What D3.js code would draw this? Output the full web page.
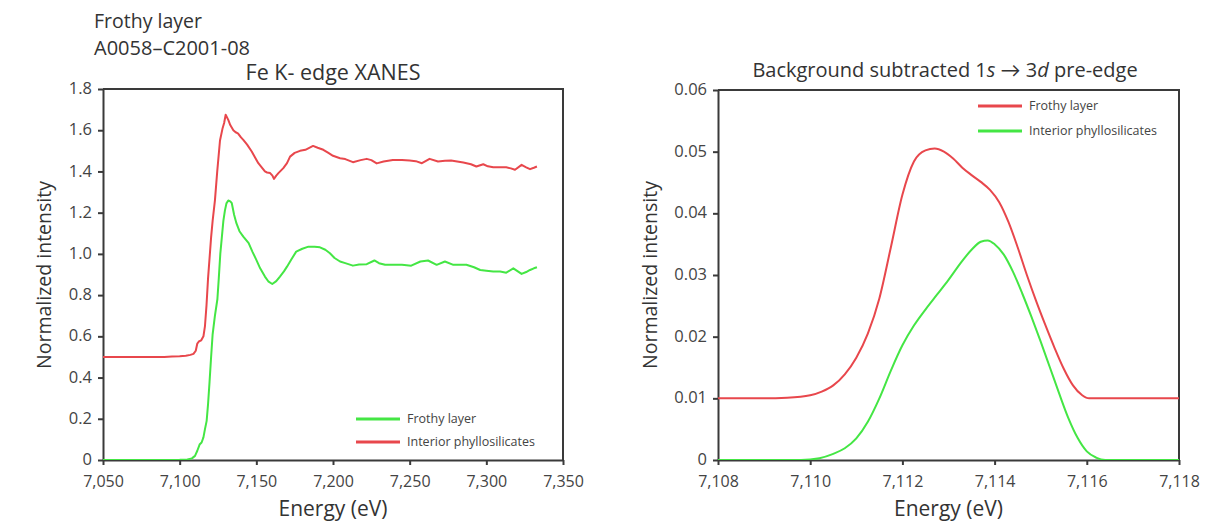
<!DOCTYPE html>
<html><head><meta charset="utf-8">
<script src="https://cdn.jsdelivr.net/npm/d3@7"></script>
<style>
body{margin:0;background:#fff;}
svg{display:block;font-family:"Open Sans",Lato,sans-serif;}
</style></head>
<body><svg id="c" width="1217" height="522"></svg>
<script>
// ---- Left panel: Fe K-edge XANES ----
const xanesEnergy = [7050,7060,7070,7080,7090,7095,7100,7104,7107,7109,7110.5,7111.5,7112.5,7114,7115.5,7116.5,7117.5,7118.5,7119.5,7120.5,7121.5,7123,7124.5,7126.3,7128,7129,7130,7131.7,7133,7135,7136.5,7138,7140,7141.5,7144,7147,7149,7151.3,7153.5,7155.6,7157,7159,7160.5,7161.5,7163,7164.4,7167.6,7170,7172,7175,7178.5,7182,7187,7190,7193.7,7197,7200,7204.6,7208,7213,7218,7222,7225,7228.5,7233,7239,7245,7250,7254,7258,7263,7268.5,7273,7277,7281,7285,7290,7293.5,7298,7301,7304.5,7309,7313,7316,7318.7,7323,7326,7328.5,7331,7333];
const xanesInterior = [0.50,0.50,0.50,0.50,0.50,0.502,0.503,0.506,0.51,0.515,0.53,0.565,0.575,0.58,0.60,0.65,0.75,0.88,0.98,1.08,1.16,1.26,1.40,1.55,1.61,1.635,1.675,1.65,1.625,1.60,1.59,1.585,1.565,1.553,1.53,1.497,1.47,1.44,1.42,1.40,1.395,1.392,1.38,1.364,1.38,1.392,1.416,1.44,1.472,1.49,1.50,1.505,1.524,1.515,1.505,1.49,1.476,1.464,1.46,1.445,1.455,1.461,1.455,1.439,1.448,1.456,1.455,1.453,1.45,1.44,1.461,1.448,1.452,1.453,1.448,1.443,1.435,1.424,1.435,1.425,1.42,1.42,1.42,1.415,1.408,1.432,1.42,1.411,1.418,1.424];
const xanesFrothyEnergy = [7050,7080,7100,7105,7108,7110,7111.5,7113,7114.3,7115.5,7116.5,7117.6,7118.5,7119.5,7120.5,7121.5,7123,7124.6,7125.5,7126.5,7127.5,7128.5,7129.5,7130.5,7131.7,7133,7134,7135.5,7137,7139,7141.5,7143,7145,7147.5,7150,7152.5,7155.6,7158,7160.4,7163,7165.4,7168,7170,7173,7176,7180,7184,7188,7191.5,7195,7198,7201,7204.6,7208,7213,7217,7222,7227,7230,7234,7240,7245,7251,7257,7262,7267.6,7273,7278.5,7283,7287,7292,7296,7300,7304.5,7309,7313,7317.6,7323,7326,7328.5,7331,7333];
const xanesFrothy = [0,0,0.001,0.003,0.008,0.02,0.045,0.075,0.085,0.11,0.15,0.19,0.27,0.38,0.50,0.61,0.70,0.78,0.88,1.0,1.08,1.16,1.21,1.245,1.259,1.255,1.246,1.19,1.149,1.11,1.084,1.07,1.052,1.01,0.971,0.93,0.89,0.865,0.854,0.868,0.89,0.915,0.938,0.975,1.011,1.025,1.035,1.035,1.032,1.02,1.003,0.98,0.963,0.955,0.943,0.948,0.95,0.968,0.955,0.947,0.947,0.947,0.943,0.963,0.968,0.947,0.963,0.947,0.947,0.947,0.935,0.922,0.918,0.914,0.915,0.909,0.93,0.903,0.912,0.922,0.93,0.935];
const leftXTicks = [7050,7100,7150,7200,7250,7300,7350];
const leftYTicks = [0,0.2,0.4,0.6,0.8,1.0,1.2,1.4,1.6,1.8];

// ---- Right panel: pre-edge ----
const preFrothyEnergy = [7108,7108.5,7109,7109.5,7110,7110.25,7110.5,7110.75,7111,7111.25,7111.5,7111.75,7112,7112.25,7112.5,7112.7,7112.9,7113.1,7113.3,7113.5,7113.7,7113.9,7114.1,7114.3,7114.5,7114.7,7114.9,7115.1,7115.3,7115.5,7115.7,7115.9,7116.05,7116.5,7117,7118];
const preFrothy = [0.0100,0.0100,0.0100,0.0101,0.0105,0.0111,0.0121,0.0139,0.0166,0.0205,0.0262,0.0345,0.0430,0.0484,0.0502,0.0505,0.0500,0.0489,0.0474,0.0462,0.0451,0.0438,0.0418,0.0386,0.0345,0.0300,0.0258,0.0219,0.0182,0.0148,0.0121,0.0105,0.0100,0.0100,0.0100,0.0100];
const preInteriorEnergy = [7108,7109,7109.8,7110.2,7110.5,7110.75,7111,7111.25,7111.5,7111.75,7112,7112.25,7112.5,7112.75,7113,7113.25,7113.5,7113.7,7113.85,7114,7114.2,7114.4,7114.6,7114.8,7115,7115.2,7115.4,7115.6,7115.8,7116,7116.2,7116.4,7117,7118];
const preInterior = [0,0,0,0.0003,0.0010,0.0019,0.0035,0.0062,0.0100,0.0145,0.0186,0.0218,0.0244,0.0268,0.0292,0.0318,0.0341,0.0354,0.0356,0.0350,0.0333,0.0305,0.0270,0.0232,0.0192,0.0150,0.0108,0.0068,0.0036,0.0014,0.0004,0,0,0];
const rightXTicks = [7108,7110,7112,7114,7116,7118];
const rightYTicks = [0,0.01,0.02,0.03,0.04,0.05,0.06];

const RED = "#e8474c", GREEN = "#44e644", AXIS = "#3a3a3a", TXT = "#444";
const FONT = "'Open Sans',Lato,sans-serif";
const svg = d3.select("#c");

function panel(o){
  const x = d3.scaleLinear().domain(o.xd).range([o.x0,o.x1]);
  const y = d3.scaleLinear().domain(o.yd).range([o.y0,o.y1]);
  const g = svg.append("g");
  g.append("path").attr("d",`M${o.x0},${o.y1}H${o.x1}V${o.y0}`).attr("fill","none").attr("stroke",AXIS).attr("stroke-width",2);
  const ax = g.append("g").attr("transform",`translate(0,${o.y0})`)
    .call(d3.axisBottom(x).tickValues(o.xt).tickFormat(d3.format(",")).tickSize(5).tickSizeOuter(0).tickPadding(11));
  const ay = g.append("g").attr("transform",`translate(${o.x0},0)`)
    .call(d3.axisLeft(y).tickValues(o.yt).tickFormat(o.yf).tickSize(5).tickSizeOuter(0).tickPadding(6));
  [ax,ay].forEach(a=>{
    a.select(".domain").attr("stroke",AXIS).attr("stroke-width",2);
    a.selectAll(".tick line").attr("stroke",AXIS).attr("stroke-width",2);
    a.selectAll(".tick text").attr("fill",TXT).style("font-size","16px").style("font-family",FONT);
  });
  ay.selectAll(".tick text").attr("dy","0.28em").style("font-size","16.5px");
  const clip = "clip"+o.id;
  svg.append("clipPath").attr("id",clip).append("rect").attr("x",o.x0).attr("y",o.y1).attr("width",o.x1-o.x0).attr("height",o.y0-o.y1);
  o.series.forEach(s=>{
    const line = d3.line().x((d,i)=>x(s.e[i])).y(d=>y(d)).curve(o.curve);
    g.append("path").datum(s.v).attr("d",line).attr("fill","none").attr("stroke",s.c).attr("stroke-width",2).attr("stroke-linejoin","round").attr("clip-path",`url(#${clip})`);
  });
  o.series.forEach((s,i)=>{
    const ly = o.ly + i*o.lgap;
    g.append("line").attr("x1",o.lx).attr("x2",o.lx+44).attr("y1",ly).attr("y2",ly).attr("stroke",s.c).attr("stroke-width",3);
    g.append("text").attr("x",o.lx+51).attr("y",ly+4).text(s.name).attr("fill",TXT).style("font-size","12.5px");
  });
  g.append("text").attr("x",(o.x0+o.x1)/2).attr("y",516).attr("text-anchor","middle").attr("fill","#333").style("font-size","21px").text("Energy (eV)");
  g.append("text").attr("transform",`translate(${o.ylx},275) rotate(-90)`).attr("text-anchor","middle").attr("fill","#333").style("font-size","19.5px").text("Normalized intensity");
  return g;
}

panel({id:"L",xd:[7050,7350],yd:[0,1.8],x0:103,x1:563,y0:460,y1:89,xt:leftXTicks,yt:leftYTicks,
  yf:d=>d===0?"0":d.toFixed(1),curve:d3.curveLinear,lx:356,ly:419,lgap:23,ylx:51,
  series:[{name:"Frothy layer",c:GREEN,e:xanesFrothyEnergy,v:xanesFrothy},
          {name:"Interior phyllosilicates",c:RED,e:xanesEnergy,v:xanesInterior}]});
panel({id:"R",xd:[7108,7118],yd:[0,0.06],x0:718,x1:1179,y0:460,y1:90,xt:rightXTicks,yt:rightYTicks,
  yf:d=>d===0?"0":d.toFixed(2),curve:d3.curveMonotoneX,lx:978,ly:106,lgap:25,ylx:657,
  series:[{name:"Frothy layer",c:RED,e:preFrothyEnergy,v:preFrothy},
          {name:"Interior phyllosilicates",c:GREEN,e:preInteriorEnergy,v:preInterior}]});

svg.append("text").attr("x",94).attr("y",28).attr("fill","#333").style("font-size","19.5px").text("Frothy layer");
svg.append("text").attr("x",94).attr("y",55).attr("fill","#333").style("font-size","20px").text("A0058–C2001-08");
svg.append("text").attr("x",333).attr("y",80).attr("text-anchor","middle").attr("fill","#333").style("font-size","21.5px").text("Fe K- edge XANES");
const t = svg.append("text").attr("x",945).attr("y",77).attr("text-anchor","middle").attr("fill","#333").style("font-size","20px");
t.append("tspan").text("Background subtracted 1");
t.append("tspan").style("font-style","italic").text("s");
t.append("tspan").text(" → 3");
t.append("tspan").style("font-style","italic").text("d");
t.append("tspan").text(" pre-edge");
</script></body></html>
